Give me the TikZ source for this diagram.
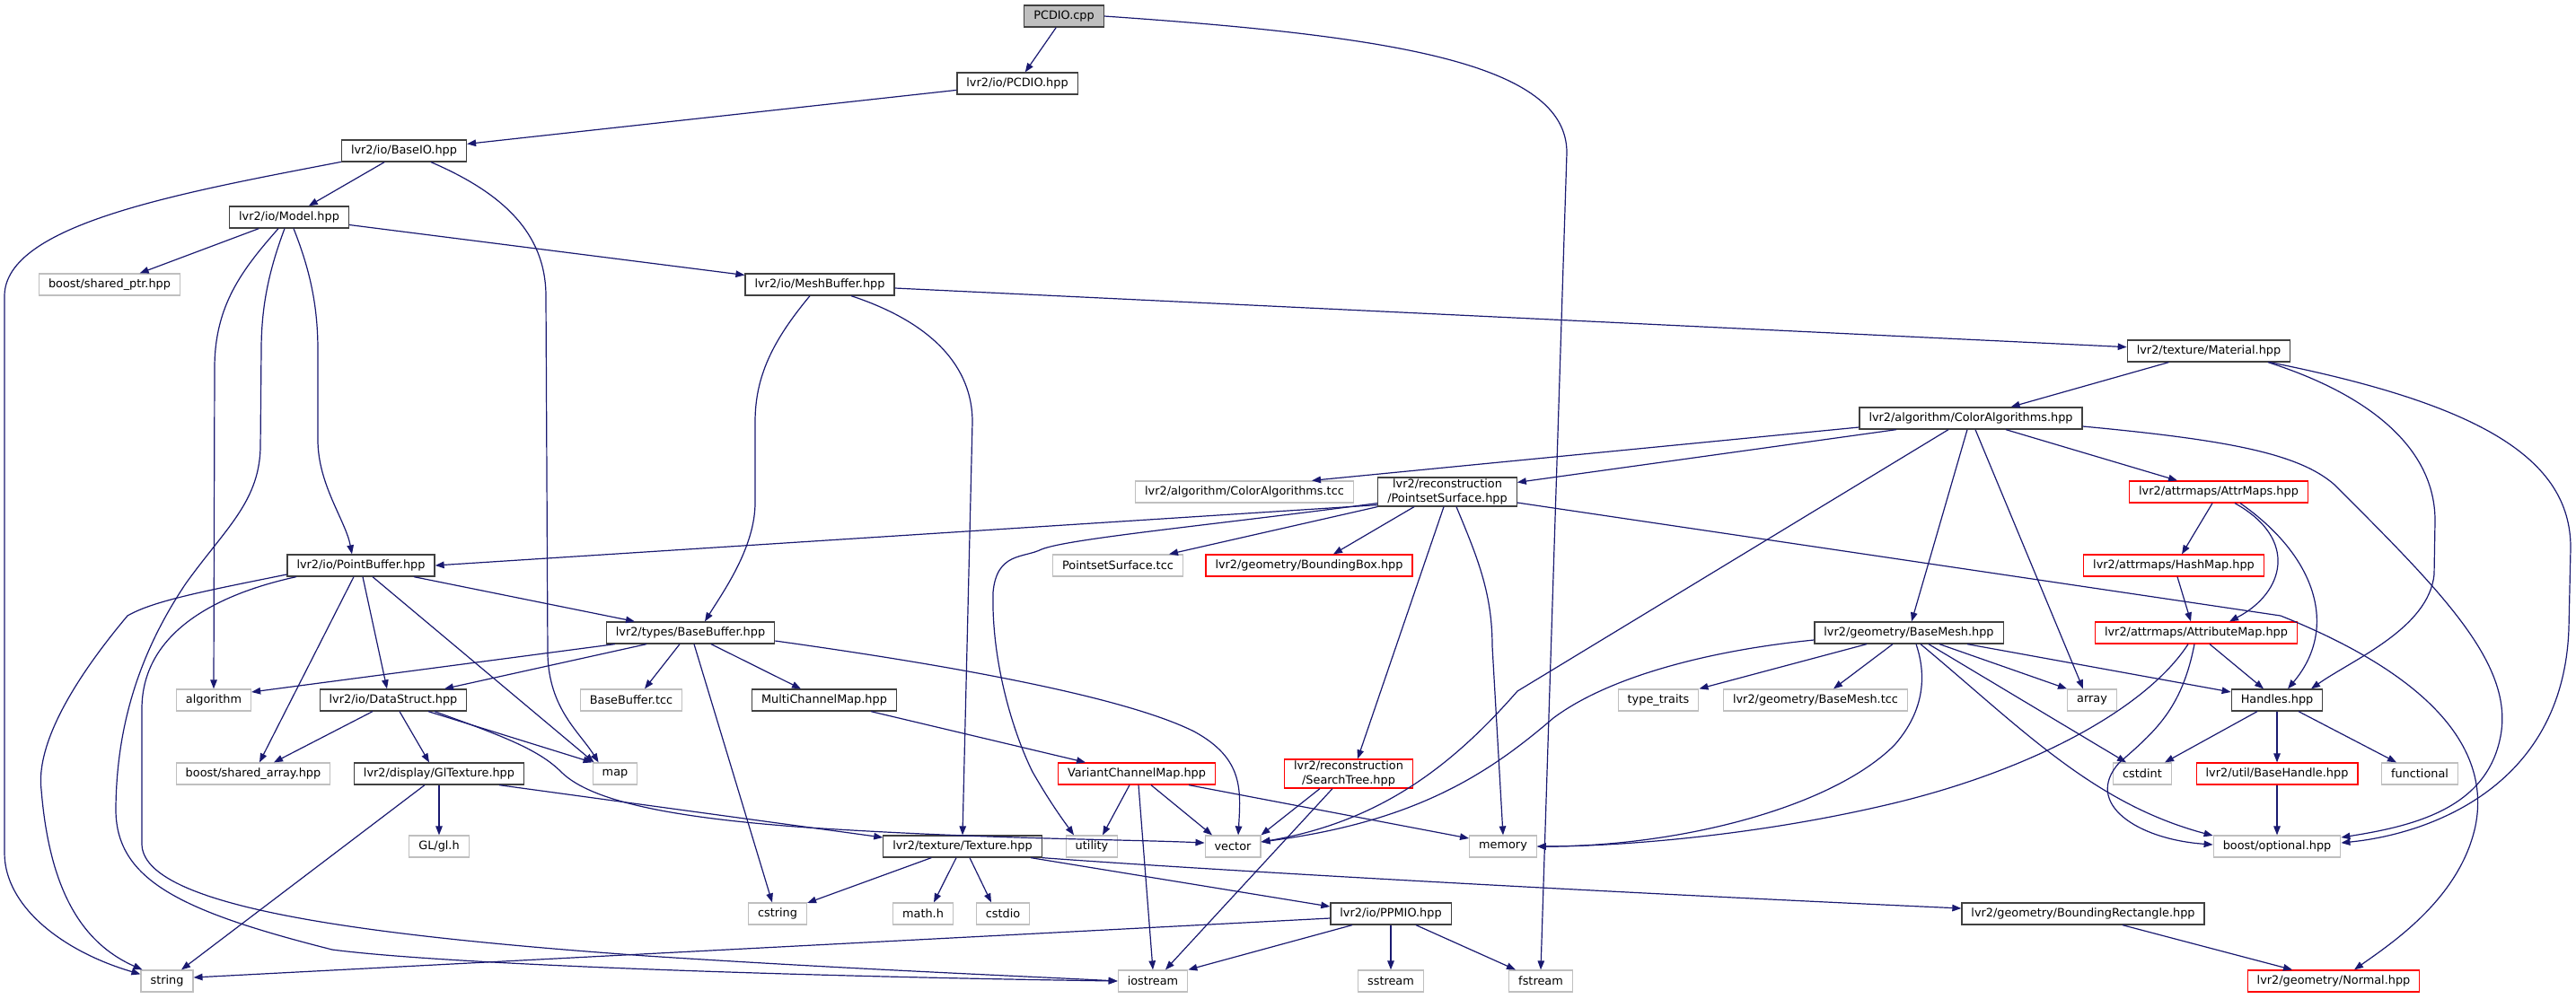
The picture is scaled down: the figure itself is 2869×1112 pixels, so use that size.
\documentclass[tikz,border=0pt]{standalone}
\usepackage{fontspec}
\setmainfont{DejaVu Sans}
\usepackage{tikz}
\usetikzlibrary{arrows.meta}
\definecolor{edgeblue}{RGB}{25,25,112}
\definecolor{boxgray}{RGB}{191,191,191}
\definecolor{boxline}{RGB}{64,64,64}
\definecolor{cutred}{RGB}{255,0,0}

\begin{document}
\begin{tikzpicture}[x=1pt, y=-1pt,
  hdr/.style={draw, line width=1.25pt, fill=white, minimum height=24pt, inner xsep=10.5pt, inner ysep=2pt, font=\fontsize{12.85}{15.5}\selectfont},
  doc/.style={hdr, draw=boxline},
  sys/.style={hdr, draw=boxgray},
  cut/.style={hdr, draw=cutred},
  root/.style={doc, fill=boxgray},
  dep/.style={draw=edgeblue, line width=1.2pt, -{Triangle[length=10pt, width=7.5pt]}}]
\useasboundingbox (0,0) rectangle (2869,1112);
\node[root] (cpp) at (1185,18) {PCDIO.cpp};
\node[doc] (pcdio) at (1133,93) {lvr2/io/PCDIO.hpp};
\node[doc] (baseio) at (450,168) {lvr2/io/BaseIO.hpp};
\node[doc] (model) at (322,242) {lvr2/io/Model.hpp};
\node[sys] (sptr) at (122,317) {boost/shared\_ptr.hpp};
\node[doc] (meshbuf) at (913,317) {lvr2/io/MeshBuffer.hpp};
\node[doc] (material) at (2460,391) {lvr2/texture/Material.hpp};
\node[doc] (coloralg) at (2195,466) {lvr2/algorithm/ColorAlgorithms.hpp};
\node[sys] (coltcc) at (1386,548) {lvr2/algorithm/ColorAlgorithms.tcc};
\node[doc, align=center] (pss) at (1612,548) {lvr2/reconstruction\\/PointsetSurface.hpp};
\node[cut] (attrmaps) at (2471,548) {lvr2/attrmaps/AttrMaps.hpp};
\node[doc] (pointbuf) at (402,630) {lvr2/io/PointBuffer.hpp};
\node[sys] (psstcc) at (1245,630) {PointsetSurface.tcc};
\node[cut] (bbox) at (1458,630) {lvr2/geometry/BoundingBox.hpp};
\node[cut] (hashmap) at (2421,630) {lvr2/attrmaps/HashMap.hpp};
\node[doc] (basebuf) at (769,705) {lvr2/types/BaseBuffer.hpp};
\node[doc] (basemesh) at (2126,705) {lvr2/geometry/BaseMesh.hpp};
\node[cut] (attrmap) at (2446,705) {lvr2/attrmaps/AttributeMap.hpp};
\node[sys] (algo) at (238,780) {algorithm};
\node[doc] (datastruct) at (438,780) {lvr2/io/DataStruct.hpp};
\node[sys] (bbtcc) at (703,780) {BaseBuffer.tcc};
\node[doc] (mcmap) at (918,780) {MultiChannelMap.hpp};
\node[sys] (typetr) at (1847,780) {type\_traits};
\node[sys] (bmtcc) at (2022,780) {lvr2/geometry/BaseMesh.tcc};
\node[sys] (array) at (2330,780) {array};
\node[doc] (handles) at (2536,780) {Handles.hpp};
\node[sys] (sarr) at (282,862) {boost/shared\_array.hpp};
\node[doc] (gltex) at (489,862) {lvr2/display/GlTexture.hpp};
\node[sys] (map) at (685,862) {map};
\node[cut] (vcmap) at (1266,862) {VariantChannelMap.hpp};
\node[cut, align=center] (stree) at (1502,862) {lvr2/reconstruction\\/SearchTree.hpp};
\node[sys] (cstdint) at (2386,862) {cstdint};
\node[cut] (bhandle) at (2536,862) {lvr2/util/BaseHandle.hpp};
\node[sys] (functional) at (2695,862) {functional};
\node[sys] (glh) at (489,943) {GL/gl.h};
\node[doc] (texture) at (1072,943) {lvr2/texture/Texture.hpp};
\node[sys] (utility) at (1216,943) {utility};
\node[sys] (vector) at (1373,943) {vector};
\node[sys] (memory) at (1674,943) {memory};
\node[sys] (optional) at (2536,943) {boost/optional.hpp};
\node[sys] (cstring) at (866,1018) {cstring};
\node[sys] (mathh) at (1028,1018) {math.h};
\node[sys] (cstdio) at (1117,1018) {cstdio};
\node[doc] (ppmio) at (1549,1018) {lvr2/io/PPMIO.hpp};
\node[doc] (brect) at (2320,1018) {lvr2/geometry/BoundingRectangle.hpp};
\node[sys] (string) at (186,1093) {string};
\node[sys] (iostream) at (1284,1093) {iostream};
\node[sys] (sstream) at (1549,1093) {sstream};
\node[sys] (fstream) at (1716,1093) {fstream};
\node[cut] (normal) at (2599,1093) {lvr2/geometry/Normal.hpp};

\draw[dep] (cpp) -- (pcdio);
\draw[dep] (cpp.east) .. controls (1550,40) and (1745,70) .. (1745,170) -- (fstream.north);
\draw[dep] (pcdio) -- (baseio);
\draw[dep] (baseio) -- (model);
\draw[dep] (baseio.190) .. controls (200,215) and (5,250) .. (5,330) -- (5,950) .. controls (5,1010) and (70,1060) .. ([yshift=-5pt]string.north west);
\draw[dep] ([xshift=30pt]baseio.south) .. controls (560,215) and (608,260) .. (608,330) -- (610,730) .. controls (612,790) and (645,815) .. ([xshift=7pt]map.north west);
\draw[dep] (model) -- (sptr);
\draw[dep] ([xshift=-12pt]model.south) .. controls (270,300) and (239,340) .. (239,410) -- (algo.north);
\draw[dep] ([xshift=-5pt]model.south) .. controls (300,300) and (291,340) .. (291,390) -- (290,500) .. controls (288,560) and (250,590) .. (207,650) .. controls (160,720) and (130,800) .. (129,900) .. controls (128,980) and (200,1015) .. (370,1058) .. controls (500,1075) and (900,1088) .. (iostream.west);
\draw[dep] ([xshift=5pt]model.south) .. controls (345,300) and (354,340) .. (354,390) -- (354,490) .. controls (354,540) and (385,580) .. ([xshift=-10pt]pointbuf.north);
\draw[dep] (model) -- (meshbuf);
\draw[dep] ([xshift=-11pt]meshbuf.south) .. controls (860,380) and (841,420) .. (841,470) -- (841,560) .. controls (841,610) and (805,660) .. ([xshift=16pt]basebuf.north);
\draw[dep] ([xshift=35pt]meshbuf.south) .. controls (1040,360) and (1083,410) .. (1083,470) -- (texture.north);
\draw[dep] (meshbuf) -- (material);
\draw[dep] (material) -- (coloralg);
\draw[dep] ([xshift=66pt]material.south) .. controls (2640,440) and (2712,500) .. (2712,580) -- (2711,640) .. controls (2705,700) and (2620,735) .. ([xshift=38pt]handles.north);
\draw[dep] ([xshift=68pt]material.south) .. controls (2760,450) and (2863,510) .. (2863,610) -- (2861,700) .. controls (2855,880) and (2700,930) .. ([yshift=4pt]optional.east);
\draw[dep] ([yshift=-10pt]coloralg.west) -- ([xshift=75pt]coltcc.north);
\draw[dep] ([xshift=-83pt]coloralg.south) -- ([yshift=-6pt]pss.north east);
\draw[dep] ([xshift=39pt]coloralg.south) -- ([xshift=-46pt]attrmaps.north);
\draw[dep] ([xshift=-4pt]coloralg.south) -- ([xshift=3pt]basemesh.north);
\draw[dep] ([xshift=5pt]coloralg.south) -- ([xshift=-10pt]array.north);
\draw[dep] ([xshift=-25pt]coloralg.south) -- (1690,770) .. controls (1620,850) and (1540,915) .. ([yshift=5pt]vector.east);
\draw[dep] ([yshift=-9pt]coloralg.east) .. controls (2480,490) and (2560,505) .. (2600,540) .. controls (2720,660) and (2800,740) .. (2785,820) .. controls (2770,900) and (2690,920) .. ([yshift=10pt]optional.east);
\draw[dep] ([yshift=2pt]pss.south west) -- (pointbuf.east);
\draw[dep] ([yshift=4pt]pss.south west) .. controls (1350,585) and (1190,600) .. (1160,612) .. controls (1140,622) and (1110,615) .. (1106,660) .. controls (1104,740) and (1130,820) .. (1150,860) .. controls (1170,895) and (1185,915) .. ([xshift=-20pt]utility.north);
\draw[dep] (pss.south west) -- ([xshift=57pt]psstcc.north);
\draw[dep] ([xshift=-37pt]pss.south) -- ([xshift=27pt]bbox.north);
\draw[dep] ([xshift=-4pt]pss.south) -- ([xshift=10pt]stree.north);
\draw[dep] ([xshift=10pt]pss.south) .. controls (1645,620) and (1662,660) .. (1662,720) -- (memory.north);
\draw[dep] ([yshift=-12pt]pss.east) -- (2540,686) .. controls (2700,750) and (2775,830) .. (2757,920) .. controls (2740,1000) and (2665,1050) .. ([xshift=23pt]normal.north);
\draw[dep] ([xshift=-7pt]attrmaps.south) -- ([xshift=9pt]hashmap.north);
\draw[dep] ([xshift=18pt]attrmaps.south) .. controls (2560,600) and (2545,660) .. ([xshift=37pt]attrmap.north);
\draw[dep] ([xshift=24pt]attrmaps.south) .. controls (2580,620) and (2605,700) .. ([xshift=12pt]handles.north);
\draw[dep] ([xshift=4pt]hashmap.south) -- ([xshift=-6pt]attrmap.north);
\draw[dep] ([xshift=15pt]attrmap.south) -- ([xshift=-15pt]handles.north);
\draw[dep] ([xshift=-9pt]attrmap.south) .. controls (2390,790) and (2260,860) .. (2100,897) .. controls (1950,932) and (1800,943) .. (memory.east);
\draw[dep] ([xshift=-2pt]attrmap.south) .. controls (2430,790) and (2400,815) .. (2360,850) .. controls (2320,895) and (2380,935) .. ([yshift=2pt]optional.west);
\draw[dep] ([xshift=-47pt]basemesh.south) -- (typetr.north east);
\draw[dep] ([xshift=-18pt]basemesh.south) -- ([xshift=20pt]bmtcc.north);
\draw[dep] ([xshift=34pt]basemesh.south) -- (array.north west);
\draw[dep] ([xshift=65pt]basemesh.south) -- ([yshift=9pt]handles.west);
\draw[dep] ([xshift=22pt]basemesh.south) -- ([xshift=-18pt]cstdint.north);
\draw[dep] ([xshift=13pt]basemesh.south) .. controls (2250,810) and (2330,895) .. ([yshift=12pt]optional.west);
\draw[dep] ([xshift=8pt]basemesh.south) .. controls (2145,750) and (2145,790) .. (2110,830) .. controls (2040,900) and (1870,943) .. (memory.east);
\draw[dep] ([yshift=-8pt]basemesh.west) .. controls (1900,725) and (1790,755) .. (1730,800) .. controls (1660,860) and (1580,915) .. ([yshift=5pt]vector.east);
\draw[dep] ([xshift=-32pt]stree.south) -- (vector.north east);
\draw[dep] ([xshift=-18pt]stree.south) -- ([xshift=14pt]iostream.north);
\draw[dep] (texture) -- (cstring);
\draw[dep] ([xshift=-7pt]texture.south) -- ([xshift=12pt]mathh.north);
\draw[dep] ([xshift=8pt]texture.south) -- ([xshift=-13pt]cstdio.north);
\draw[dep] ([xshift=76pt]texture.south) -- ([yshift=8pt]ppmio.west);
\draw[dep] (texture.south east) .. controls (1300,966) and (1700,990) .. ([yshift=6pt]brect.west);
\draw[dep] (gltex) -- (glh);
\draw[dep] ([xshift=-16pt]gltex.south) -- ([xshift=16pt]string.north);
\draw[dep] ([xshift=67pt]gltex.south) -- ([yshift=10pt]texture.west);
\draw[dep] ([xshift=-23pt]datastruct.south) -- ([xshift=23pt]sarr.north);
\draw[dep] ([xshift=7pt]datastruct.south) -- ([xshift=-11pt]gltex.north);
\draw[dep] ([xshift=39pt]datastruct.south) -- (map.north west);
\draw[dep] ([xshift=46pt]datastruct.south) .. controls (560,820) and (600,835) .. (625,860) .. controls (660,895) and (760,912) .. (900,922) .. controls (1100,935) and (1250,935) .. ([yshift=4pt]vector.west);
\draw[dep] ([yshift=-10pt]pointbuf.west) .. controls (220,660) and (170,670) .. (142,686) .. controls (80,760) and (40,830) .. (46,880) .. controls (55,990) and (90,1050) .. ([xshift=2pt]string.north west);
\draw[dep] ([xshift=-72pt]pointbuf.south) .. controls (250,660) and (158,700) .. (158,790) -- (158,940) .. controls (158,1010) and (400,1042) .. (720,1065) .. controls (950,1080) and (1150,1088) .. (iostream.west);
\draw[dep] ([xshift=-8pt]pointbuf.south) -- ([xshift=7pt]sarr.north);
\draw[dep] ([xshift=2pt]pointbuf.south) -- ([xshift=-7pt]datastruct.north);
\draw[dep] ([xshift=13pt]pointbuf.south) -- ([xshift=2pt]map.north west);
\draw[dep] ([xshift=59pt]pointbuf.south) -- ([xshift=-62pt]basebuf.north);
\draw[dep] ([xshift=10pt]basebuf.south west) -- ([yshift=9pt]algo.east);
\draw[dep] ([xshift=-49pt]basebuf.south) -- ([xshift=57pt]datastruct.north);
\draw[dep] ([xshift=-12pt]basebuf.south) -- ([xshift=15pt]bbtcc.north);
\draw[dep] ([xshift=23pt]basebuf.south) -- ([xshift=-26pt]mcmap.north);
\draw[dep] ([xshift=4pt]basebuf.south) -- ([xshift=-6pt]cstring.north);
\draw[dep] ([yshift=-9pt]basebuf.east) .. controls (1050,740) and (1250,775) .. (1330,815) .. controls (1385,845) and (1382,880) .. ([xshift=6pt]vector.north);
\draw[dep] ([xshift=52pt]mcmap.south) -- ([xshift=-57pt]vcmap.north);
\draw[dep] ([xshift=-8pt]vcmap.south) -- ([xshift=12pt]utility.north);
\draw[dep] ([xshift=2pt]vcmap.south) -- (iostream.north);
\draw[dep] ([xshift=16pt]vcmap.south) -- ([xshift=-23pt]vector.north);
\draw[dep] ([xshift=58pt]vcmap.south) -- ([yshift=9pt]memory.west);
\draw[dep] ([yshift=-5pt]ppmio.west) -- ([yshift=4pt]string.east);
\draw[dep] ([xshift=-43pt]ppmio.south) -- (iostream.north east);
\draw[dep] (ppmio) -- (sstream);
\draw[dep] ([xshift=28pt]ppmio.south) -- ([xshift=-28pt]fstream.north);
\draw[dep] ([xshift=44pt]brect.south) -- ([xshift=-46pt]normal.north);
\draw[dep] ([xshift=-22pt]handles.south) -- ([xshift=25pt]cstdint.north);
\draw[dep] (handles) -- (bhandle);
\draw[dep] ([xshift=24pt]handles.south) -- ([xshift=-26pt]functional.north);
\draw[dep] (bhandle) -- (optional);
\end{tikzpicture}
\end{document}
